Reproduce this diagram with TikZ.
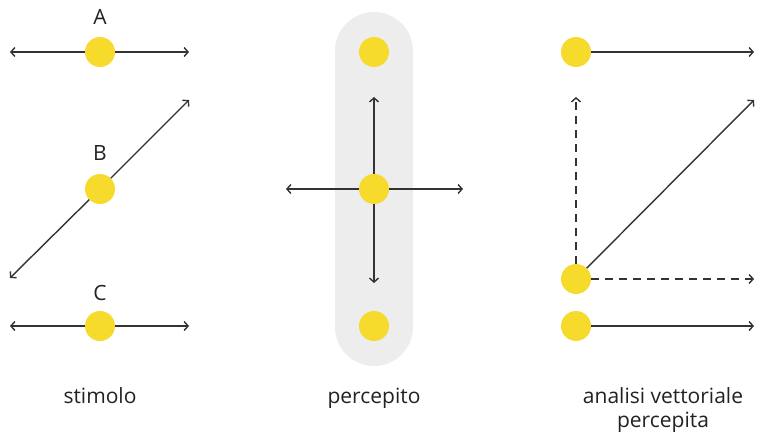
\documentclass[tikz,border=0pt]{standalone}
\usepackage{fontspec}
\setmainfont{Open Sans}
\usetikzlibrary{arrows.meta}

\definecolor{dotyellow}{HTML}{F6DA2C}
\definecolor{linegray}{HTML}{333333}
\definecolor{bandgray}{HTML}{EDEDED}
\definecolor{textgray}{HTML}{222222}

\tikzset{
  dot/.style={circle,fill=dotyellow,minimum size=30pt,inner sep=0pt},
  vec/.style={draw=linegray,line width=1.4pt},
  lbl/.style={text=textgray,font=\fontsize{21pt}{24pt}\selectfont,anchor=base,align=center},
  >={Straight Barb[length=4pt,width=9pt]}
}

\begin{document}
\begin{tikzpicture}[x=1pt,y=-1pt]
\useasboundingbox (0,0) rectangle (761,433);

% stimolo
\coordinate (aw) at (10,52);   \coordinate (ae) at (189,52);
\coordinate (bsw) at (10,278); \coordinate (bne) at (189,100);
\coordinate (cw) at (10,326);  \coordinate (ce) at (189,326);
\node[dot] (a) at (100,52) {};
\node[dot] (b) at (100,189) {};
\node[dot] (c) at (100,326) {};
\draw[vec,->] (a) -- (aw);  \draw[vec,->] (a) -- (ae);
\draw[vec,->] (b) -- (bsw); \draw[vec,->] (b) -- (bne);
\draw[vec,->] (c) -- (cw);  \draw[vec,->] (c) -- (ce);
\node[lbl] (la) at (100,25) {A};
\node[lbl] (lb) at (100,161) {B};
\node[lbl] (lc) at (100,300) {C};
\node[lbl] (ls) at (100,403) {stimolo};

% percepito
\fill[bandgray,rounded corners=39pt] (335,12) rectangle (413,366);
\coordinate (pn) at (374,97);  \coordinate (ps) at (374,283);
\coordinate (pw) at (286,189); \coordinate (pe) at (463,189);
\node[dot] (p1) at (374,52) {};
\node[dot] (p2) at (374,189) {};
\node[dot] (p3) at (374,326) {};
\draw[vec,->] (p2) -- (pn); \draw[vec,->] (p2) -- (ps);
\draw[vec,->] (p2) -- (pw); \draw[vec,->] (p2) -- (pe);
\node[lbl] (lp) at (374,403) {percepito};

% analisi vettoriale
\coordinate (r1e) at (754,52);
\coordinate (rn) at (576,97);  \coordinate (rne) at (754,100);
\coordinate (re) at (754,279); \coordinate (r3e) at (754,326);
\node[dot] (r1) at (576,52) {};
\node[dot] (r2) at (576,279) {};
\node[dot] (r3) at (576,326) {};
\draw[vec,->] (r1) -- (r1e);
\draw[vec,->] (r2) -- (rne);
\draw[vec,->,dash pattern=on 8pt off 6pt] (r2) -- (rn);
\draw[vec,->,dash pattern=on 8pt off 6pt] (r2) -- (re);
\draw[vec,->] (r3) -- (r3e);
\node[lbl] (lr) at (663,427) {analisi vettoriale\\percepita};

\end{tikzpicture}
\end{document}
